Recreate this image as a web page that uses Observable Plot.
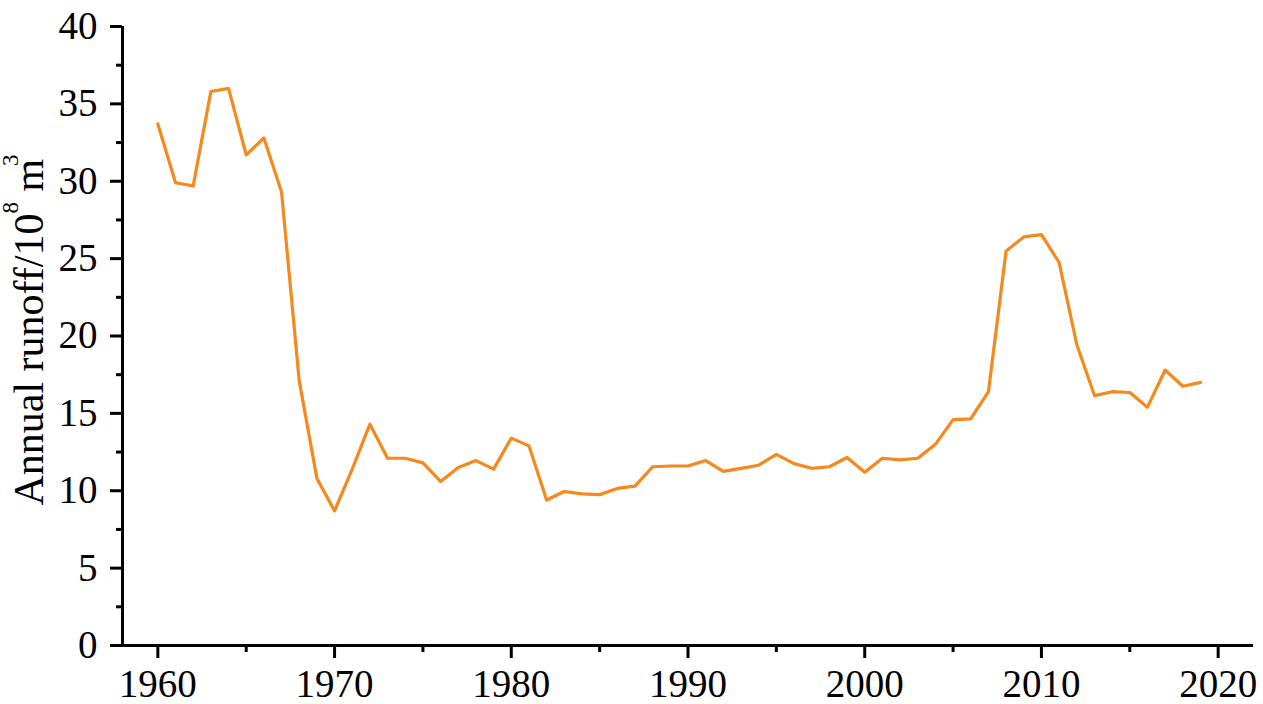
<!DOCTYPE html>
<html><head><meta charset="utf-8">
<script src="https://cdn.jsdelivr.net/npm/d3@7"></script>
<script src="https://cdn.jsdelivr.net/npm/@observablehq/plot@0.6"></script>
<style>body{margin:0;background:#fff}</style>
</head><body><div id="chart"></div>
<script>
const years = [1960,1961,1962,1963,1964,1965,1966,1967,1968,1969,
  1970,1971,1972,1973,1974,1975,1976,1977,1978,1979,
  1980,1981,1982,1983,1984,1985,1986,1987,1988,1989,
  1990,1991,1992,1993,1994,1995,1996,1997,1998,1999,
  2000,2001,2002,2003,2004,2005,2006,2007,2008,2009,
  2010,2011,2012,2013,2014,2015,2016,2017,2018,2019];
const runoff = [33.7,29.9,29.7,35.8,36.0,31.7,32.8,29.3,17.1,10.8,
  8.7,11.4,14.3,12.1,12.1,11.8,10.6,11.5,11.95,11.4,
  13.4,12.9,9.4,9.95,9.8,9.75,10.15,10.3,11.55,11.6,
  11.6,11.95,11.25,11.45,11.65,12.35,11.75,11.45,11.55,12.15,
  11.2,12.1,12.0,12.1,13.0,14.6,14.65,16.4,25.5,26.4,
  26.55,24.75,19.45,16.15,16.4,16.35,15.4,17.8,16.75,17.0];
const xTicks = [1960,1970,1980,1990,2000,2010,2020];
const xMinorTicks = [1965,1975,1985,1995,2005,2015];
const yTicks = [0,5,10,15,20,25,30,35,40];
const yMinorTicks = [2.5,7.5,12.5,17.5,22.5,27.5,32.5,37.5];
const yLabelMain = "Annual runoff/10";
const yLabelSup1 = "8";
const yLabelMid = " m";
const yLabelSup2 = "3";

const data = years.map((year, i) => ({year, runoff: runoff[i]}));
const font = "'Liberation Serif', 'Times New Roman', serif";

const chart = Plot.plot({
  width: 1263, height: 704,
  marginLeft: 122, marginRight: 10, marginTop: 26, marginBottom: 59,
  style: {fontFamily: font, fontSize: "39px", color: "#000", background: "#fff", overflow: "visible"},
  x: {domain: [1958, 2022], label: null},
  y: {domain: [0, 40], label: null},
  marks: [
    Plot.axisX({ticks: xMinorTicks, tickSize: 7, strokeWidth: 3, tickFormat: () => "", label: null}),
    Plot.axisX({ticks: xTicks, tickSize: 13, tickPadding: 11, strokeWidth: 3, tickFormat: d => String(d), label: null}),
    Plot.axisY({ticks: yMinorTicks, tickSize: 6, strokeWidth: 3, tickFormat: () => "", label: null}),
    Plot.axisY({ticks: yTicks, tickSize: 12, tickPadding: 13, strokeWidth: 3, tickFormat: d => String(d), label: null}),
    Plot.ruleY([0], {stroke: "#000", strokeWidth: 3}),
    Plot.ruleX([1958], {stroke: "#000", strokeWidth: 3}),
    Plot.line(data, {x: "year", y: "runoff", stroke: "#f7881b", strokeWidth: 3.2})
  ]
});

const svg = d3.select(chart);
const label = svg.append("text")
  .attr("transform", "translate(43,330) rotate(-90)")
  .attr("text-anchor", "middle")
  .attr("fill", "#000")
  .style("font-family", font)
  .style("font-size", "42px");
label.append("tspan").text(yLabelMain);
label.append("tspan").attr("dy", -25).style("font-size", "23px").text(yLabelSup1);
label.append("tspan").attr("dy", 25).text(yLabelMid);
label.append("tspan").attr("dy", -25).attr("dx", -7).style("font-size", "23px").text(yLabelSup2);

document.getElementById("chart").append(chart);
</script>
</body></html>
